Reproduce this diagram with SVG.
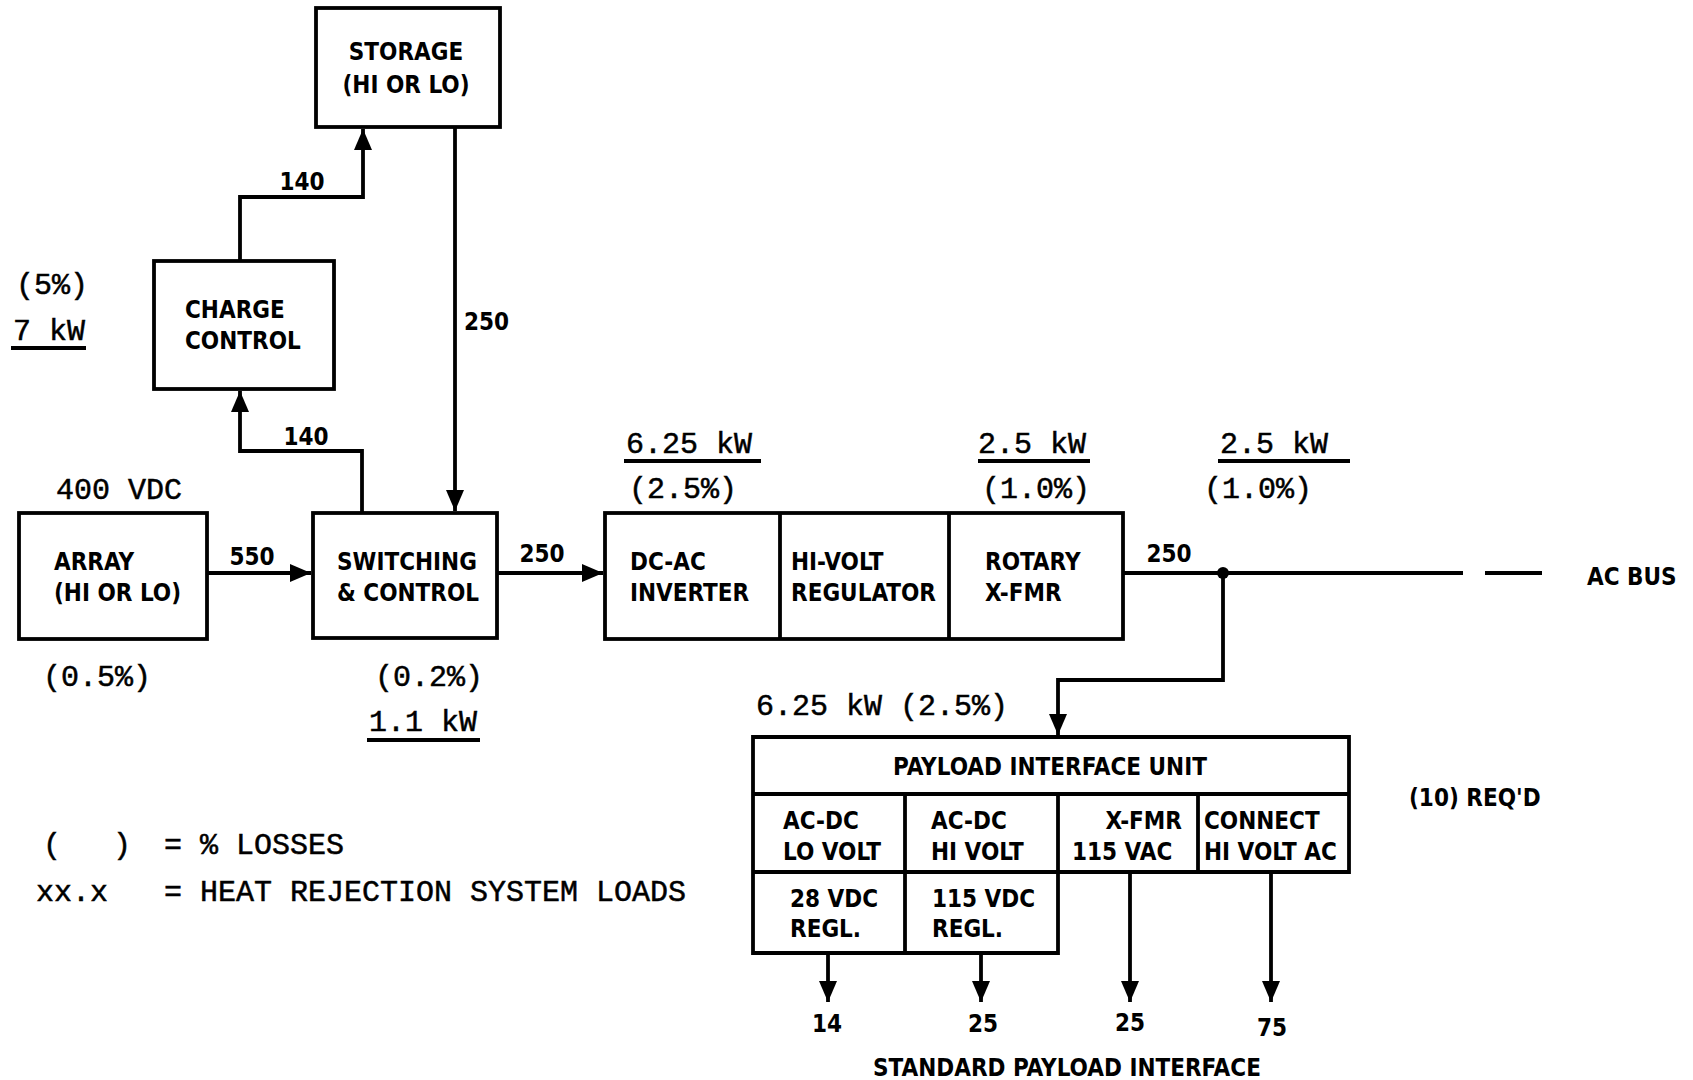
<svg xmlns="http://www.w3.org/2000/svg" width="1693" height="1080" viewBox="0 0 1693 1080">
<style>
.box{fill:none;stroke:#000;stroke-width:3.8}
.ln{fill:none;stroke:#000;stroke-width:3.8}
.b{font-family:"DejaVu Sans","Liberation Sans",sans-serif;font-weight:bold;font-stretch:condensed;font-size:24px;fill:#000}
.n{font-family:"DejaVu Sans","Liberation Sans",sans-serif;font-weight:bold;font-stretch:condensed;font-size:24px;fill:#000}
.m{font-family:"Liberation Mono","DejaVu Sans Mono",monospace;font-size:30px;fill:#000;stroke:#000;stroke-width:0.5}
.c{text-anchor:middle}
</style>
<defs>
<marker id="ah" markerUnits="userSpaceOnUse" markerWidth="24" markerHeight="20" refX="21" refY="9" orient="auto">
<path d="M0,0 L21,9 L0,18 Z" fill="#000"/>
</marker>
</defs>
<rect width="1693" height="1080" fill="#fff"/>

<g id="storage">
<rect class="box" x="316" y="8" width="184" height="119"/>
<text class="b c" x="406" y="60">STORAGE</text>
<text class="b c" x="406" y="93">(HI OR LO)</text>
</g>
<g id="charge-control">
<rect class="box" x="154" y="261" width="180" height="128"/>
<text class="b" x="185" y="318">CHARGE</text>
<text class="b" x="185" y="349">CONTROL</text>
</g>
<g id="array">
<rect class="box" x="19" y="513" width="188" height="126"/>
<text class="b" x="54" y="570">ARRAY</text>
<text class="b" x="54" y="601">(HI OR LO)</text>
</g>
<g id="switching">
<rect class="box" x="313" y="513" width="184" height="125"/>
<text class="b" x="337" y="570">SWITCHING</text>
<text class="b" x="337" y="601">&amp; CONTROL</text>
</g>
<g id="inverter-chain">
<rect class="box" x="605" y="513" width="518" height="126"/>
<line class="ln" x1="780" y1="513" x2="780" y2="639"/>
<line class="ln" x1="949" y1="513" x2="949" y2="639"/>
<text class="b" x="630" y="570">DC-AC</text>
<text class="b" x="630" y="601">INVERTER</text>
<text class="b" x="791" y="570">HI-VOLT</text>
<text class="b" x="791" y="601">REGULATOR</text>
<text class="b" x="985" y="570">ROTARY</text>
<text class="b" x="985" y="601">X-FMR</text>
</g>
<g id="payload-interface-unit">
<path class="box" d="M753,737 H1349 V872 H1058 V953 H753 Z"/>
<line class="ln" x1="753" y1="794" x2="1349" y2="794"/>
<line class="ln" x1="753" y1="872" x2="1058" y2="872"/>
<line class="ln" x1="905" y1="794" x2="905" y2="953"/>
<line class="ln" x1="1058" y1="794" x2="1058" y2="872"/>
<line class="ln" x1="1198" y1="794" x2="1198" y2="872"/>
<text class="b c" x="1050" y="775">PAYLOAD  INTERFACE UNIT</text>
<text class="b" x="783" y="829">AC-DC</text>
<text class="b" x="783" y="860">LO VOLT</text>
<text class="b" x="931" y="829">AC-DC</text>
<text class="b" x="931" y="860">HI VOLT</text>
<text class="b" x="1182" y="829" text-anchor="end">X-FMR</text>
<text class="b" x="1072" y="860">115 VAC</text>
<text class="b" x="1204" y="829">CONNECT</text>
<text class="b" x="1204" y="860">HI VOLT AC</text>
<text class="b" x="790" y="907">28 VDC</text>
<text class="b" x="790" y="937">REGL.</text>
<text class="b" x="932" y="907">115 VDC</text>
<text class="b" x="932" y="937">REGL.</text>
</g>

<g id="connectors">
<polyline class="ln" points="240,261 240,197 363,197 363,129" marker-end="url(#ah)"/>
<line class="ln" x1="455" y1="127" x2="455" y2="511" marker-end="url(#ah)"/>
<polyline class="ln" points="362,513 362,451 240,451 240,391" marker-end="url(#ah)"/>
<line class="ln" x1="207" y1="573" x2="311" y2="573" marker-end="url(#ah)"/>
<line class="ln" x1="497" y1="573" x2="603" y2="573" marker-end="url(#ah)"/>
<line class="ln" x1="1123" y1="573" x2="1463" y2="573"/>
<line class="ln" x1="1485" y1="573" x2="1542" y2="573"/>
<circle cx="1223" cy="573" r="6" fill="#000"/>
<polyline class="ln" points="1223,573 1223,680 1058,680 1058,735" marker-end="url(#ah)"/>
<line class="ln" x1="828" y1="953" x2="828" y2="1002" marker-end="url(#ah)"/>
<line class="ln" x1="981" y1="953" x2="981" y2="1002" marker-end="url(#ah)"/>
<line class="ln" x1="1130" y1="872" x2="1130" y2="1002" marker-end="url(#ah)"/>
<line class="ln" x1="1271" y1="872" x2="1271" y2="1002" marker-end="url(#ah)"/>
<text class="n c" x="302" y="190">140</text>
<text class="n" x="464" y="330">250</text>
<text class="n c" x="306" y="445">140</text>
<text class="n c" x="252" y="565">550</text>
<text class="n c" x="542" y="562">250</text>
<text class="n c" x="1169" y="562">250</text>
</g>

<g id="labels">
<text class="b" x="1587" y="585">AC BUS</text>
<text class="b" x="1409" y="806">(10) REQ'D</text>
<text class="n c" x="827" y="1032">14</text>
<text class="n c" x="983" y="1032">25</text>
<text class="n c" x="1130" y="1031">25</text>
<text class="n c" x="1272" y="1036">75</text>
<text class="b c" x="1067" y="1076">STANDARD PAYLOAD INTERFACE</text>

<text class="m" x="16" y="294">(5%)</text>
<text class="m" x="13" y="340">7 kW</text>
<line class="ln" x1="11" y1="348" x2="86" y2="348" stroke-width="2.5"/>
<text class="m" x="56" y="499">400 VDC</text>
<text class="m" x="43" y="686">(0.5%)</text>
<text class="m" x="375" y="686">(0.2%)</text>
<text class="m" x="369" y="731">1.1 kW</text>
<line class="ln" x1="367" y1="740" x2="480" y2="740" stroke-width="2.5"/>
<text class="m" x="626" y="453">6.25 kW</text>
<line class="ln" x1="624" y1="461" x2="761" y2="461" stroke-width="2.5"/>
<text class="m" x="629" y="498">(2.5%)</text>
<text class="m" x="978" y="453">2.5 kW</text>
<line class="ln" x1="978" y1="461" x2="1090" y2="461" stroke-width="2.5"/>
<text class="m" x="982" y="498">(1.0%)</text>
<text class="m" x="1220" y="453">2.5 kW</text>
<line class="ln" x1="1218" y1="461" x2="1350" y2="461" stroke-width="2.5"/>
<text class="m" x="1204" y="498">(1.0%)</text>
<text class="m" x="756" y="715">6.25 kW (2.5%)</text>
<text class="m" x="43" y="854">(</text>
<text class="m" x="113" y="854">)</text>
<text class="m" x="164" y="854">= % LOSSES</text>
<text class="m" x="36" y="901">xx.x</text>
<text class="m" x="164" y="901">= HEAT REJECTION SYSTEM LOADS</text>
</g>
</svg>
